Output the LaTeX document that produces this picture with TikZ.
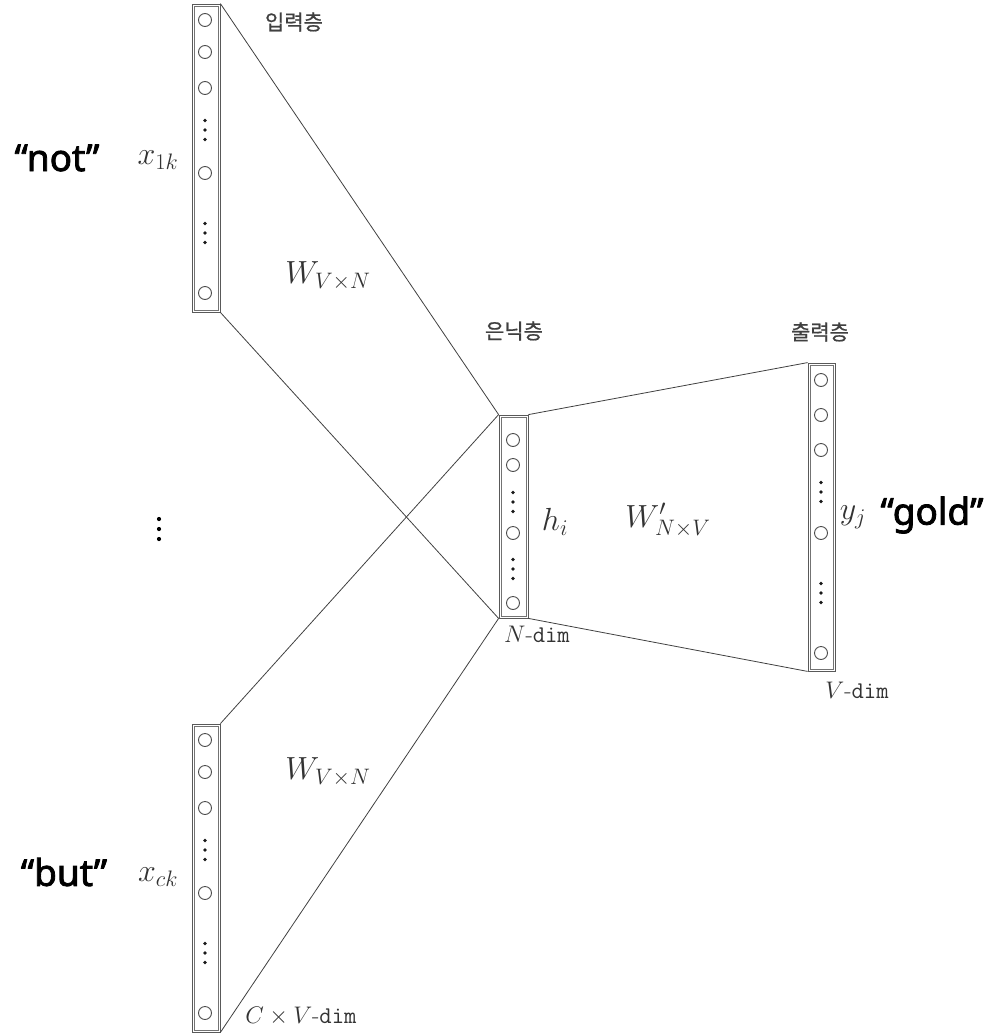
\RequirePackage{fix-cm}
\documentclass[tikz,border=0pt]{standalone}
\usepackage{fontspec}
\newfontfamily\krfont{Noto Sans CJK KR}[FakeBold=0.8]
\newfontfamily\wordfont{Noto Sans}[FakeBold=2.2]
\begin{document}
\begin{tikzpicture}[x=1pt,y=-1pt,
  layerbox/.style={draw=black!65, line width=0.8pt, inner sep=0pt, minimum width=28pt},
  innerline/.style={draw=black!55, line width=0.6pt},
  unit/.style={circle, draw=black!70, line width=0.9pt, minimum size=13pt, inner sep=0pt},
  wire/.style={draw=black!75, line width=0.8pt},
  layername/.style={font=\krfont\fontsize{21}{24}\selectfont, text=black!75},
  mathlabel/.style={font=\fontsize{32}{36}\selectfont, text=black!80},
  dimlabel/.style={font=\fontsize{24}{28}\selectfont, text=black!80},
  word/.style={font=\wordfont\fontsize{37}{42}\selectfont, text=black},
  dotcol/.pic={\fill[black!90] (0,-9.5) circle (1.8) (0,0) circle (1.8) (0,9.5) circle (1.8);}
]
\path[use as bounding box] (0,0) rectangle (993,1034);

% layer boxes, each with an inner second outline
\node[layerbox, minimum height=308pt] (in1) at (206,158) {};
\node[layerbox, minimum height=308pt] (in2) at (206,878) {};
\node[layerbox, minimum width=29pt, minimum height=203pt] (hid) at (513.5,516.5) {};
\node[layerbox, minimum width=27pt, minimum height=308pt] (out) at (821.5,517) {};
\foreach \b in {in1,in2,hid,out}
  \draw[innerline] ([xshift=2.2pt,yshift=-2.2pt]\b.north west) rectangle
                   ([xshift=-2.2pt,yshift=2.2pt]\b.south east);

% units of the first input layer
\foreach \y [count=\i] in {20,52,88,173,293}
  \node[unit] (a\i) at (205,\y) {};
\pic at (205,130) {dotcol};
\pic at (205,233) {dotcol};

% units of the last input layer
\foreach \y [count=\i] in {740,772,808,893,1013}
  \node[unit] (c\i) at (205,\y) {};
\pic at (205,850) {dotcol};
\pic at (205,953) {dotcol};

% hidden units
\foreach \y [count=\i] in {440,465,533,603}
  \node[unit] (h\i) at (513,\y) {};
\pic at (513,502) {dotcol};
\pic at (513,569) {dotcol};

% output units
\foreach \y [count=\i] in {380,415,450,533,653}
  \node[unit] (o\i) at (821,\y) {};
\pic at (821,492) {dotcol};
\pic at (821,593) {dotcol};

% further context words
\node (more) at (159,529) {};
\fill[black] (159,519) circle (2.1) (159,529) circle (2.1) (159,539) circle (2.1);

% weight connections
\draw[wire] (in1.north east) -- (hid.north west);
\draw[wire] (in1.south east) -- (hid.south west);
\draw[wire] (in2.north east) -- (hid.north west);
\draw[wire] (in2.south east) -- (hid.south west);
\draw[wire] (hid.north east) -- (out.north west);
\draw[wire] (hid.south east) -- (out.south west);

% layer names
\node[layername] (lin) at (294,22) {입력층};
\node[layername] (lhid) at (514,331) {은닉층};
\node[layername] (lout) at (820,332) {출력층};

% weights and units
\node[mathlabel] (w1) at (328,276) {$W_{V\times N}$};
\node[mathlabel] (w2) at (328,772) {$W_{V\times N}$};
\node[mathlabel] (w3) at (668,520) {$W'_{N\times V}$};
\node[mathlabel] (hi) at (555,522) {$h_i$};
\node[mathlabel] (yj) at (853,517) {$y_j$};
\node[mathlabel] (x1) at (158,160) {$x_{1k}$};
\node[mathlabel] (xc) at (158,877) {$x_{ck}$};

% dimensions
\node[dimlabel] (nd) at (537,634) {$N$-\texttt{dim}};
\node[dimlabel] (vd) at (857,690) {$V$-\texttt{dim}};
\node[dimlabel] (cd) at (301,1016) {$C\times V$-\texttt{dim}};

% context and target words
\node[word] (wnot) at (57,158) {“not”};
\node[word] (wbut) at (64,872) {“but”};
\node[word] (wgold) at (932,515) {“gold”};
\end{tikzpicture}
\end{document}
